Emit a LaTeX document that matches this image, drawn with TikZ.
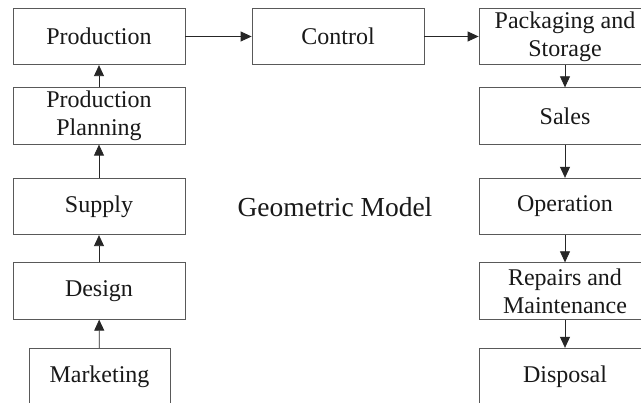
\documentclass[tikz,border=0pt]{standalone}
\usepackage{fontspec}
\setmainfont{Liberation Serif}
\usetikzlibrary{arrows.meta}
\tikzset{
  stage/.style={draw=black!65, line width=0.8pt, fill=white,
    minimum width=172pt, minimum height=56.5pt, inner sep=0pt,
    align=center, text=black!90,
    font=\fontsize{24}{28}\selectfont},
  flow/.style={draw=black!85, line width=0.8pt,
    -{Triangle[length=11pt,width=10pt]}},
  caption/.style={font=\fontsize{27.5}{30}\selectfont, text=black!90}
}
\begin{document}
\begin{tikzpicture}[x=1pt,y=1pt]
  \useasboundingbox (0,0) rectangle (641,403);
  \clip (0,0) rectangle (641,403);
  \fill[white] (0,0) rectangle (641,403);

  % left column, read bottom to top
  \node[stage] (prod) at (99,366.5) {Production};
  \node[stage] (plan) at (99,287) {Production\\Planning};
  \node[stage] (supply) at (99,196.5) {Supply};
  \node[stage] (design) at (99,112) {Design};
  \node[stage, minimum width=141pt] (market) at (99.5,26.5) {Marketing};

  % top row
  \node[stage] (control) at (338,366.5) {Control};

  % right column, read top to bottom
  \node[stage] (pack) at (565,366.5) {Packaging and\\Storage};
  \node[stage] (sales) at (565,287) {Sales};
  \node[stage] (oper) at (565,196.5) {Operation};
  \node[stage] (repair) at (565,112) {Repairs and\\Maintenance};
  \node[stage] (dispose) at (565,26.5) {Disposal};

  \node[caption] (model) at (335,196) {Geometric Model};

  \draw[flow] (market) -- (design);
  \draw[flow] (design) -- (supply);
  \draw[flow] (supply) -- (plan);
  \draw[flow] (plan) -- (prod);
  \draw[flow] (prod) -- (control);
  \draw[flow] (control) -- (pack);
  \draw[flow] (pack) -- (sales);
  \draw[flow] (sales) -- (oper);
  \draw[flow] (oper) -- (repair);
  \draw[flow] (repair) -- (dispose);
\end{tikzpicture}
\end{document}
